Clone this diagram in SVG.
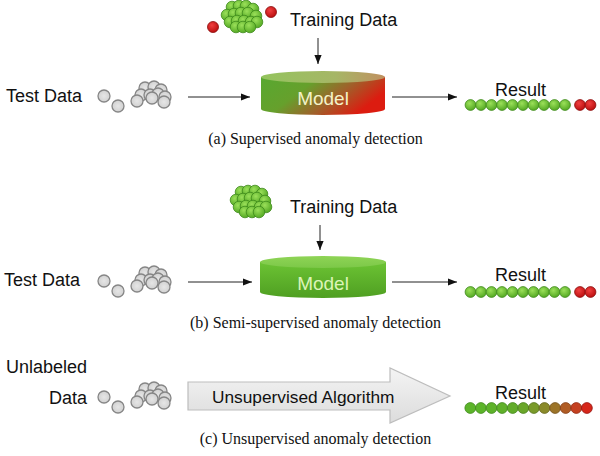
<svg xmlns="http://www.w3.org/2000/svg" width="600" height="456" viewBox="0 0 600 456">
<style>
.lbl{font-family:"Liberation Sans",Arial,sans-serif;font-size:18px;fill:#111}
.cap{font-family:"Liberation Serif","Times New Roman",serif;font-size:16px;fill:#111}
.mdl{font-family:"Liberation Sans",Arial,sans-serif;font-size:19px;text-anchor:middle}
.conn{stroke:#222;stroke-width:1;fill:none}
.gb{fill:url(#gball);stroke:#3f8a1c;stroke-width:0.8}
.rb{fill:url(#rball);stroke:#8a0c0c;stroke-width:0.8}
.yb{fill:url(#yball);stroke:#868686;stroke-width:1.3}
</style>
<defs>
<radialGradient id="gball" cx="0.4" cy="0.35" r="0.7"><stop offset="0" stop-color="#9be05a"/><stop offset="1" stop-color="#4fa51f"/></radialGradient>
<radialGradient id="rball" cx="0.4" cy="0.35" r="0.7"><stop offset="0" stop-color="#f04040"/><stop offset="1" stop-color="#b80c0c"/></radialGradient>
<radialGradient id="yball" cx="0.5" cy="0.5" r="0.6"><stop offset="0" stop-color="#e6e6e6"/><stop offset="1" stop-color="#cdcdcd"/></radialGradient>
<linearGradient id="bodyA" x1="0" y1="0" x2="1" y2="0.4"><stop offset="0" stop-color="#58a830"/><stop offset="0.4" stop-color="#66a02c"/><stop offset="0.7" stop-color="#a0602a"/><stop offset="1" stop-color="#dc1c10"/></linearGradient>
<linearGradient id="topA" x1="0" y1="0" x2="1" y2="0"><stop offset="0" stop-color="#94c45e"/><stop offset="0.6" stop-color="#a6b666"/><stop offset="1" stop-color="#c09060"/></linearGradient>
<linearGradient id="bodyB" x1="0" y1="0" x2="0" y2="1"><stop offset="0" stop-color="#6cc334"/><stop offset="1" stop-color="#4f9f22"/></linearGradient>
<linearGradient id="topB" x1="0" y1="0" x2="0" y2="1"><stop offset="0" stop-color="#8fd456"/><stop offset="1" stop-color="#7cc848"/></linearGradient>
<linearGradient id="bigArrow" x1="0" y1="0" x2="0" y2="1"><stop offset="0" stop-color="#f4f4f4"/><stop offset="1" stop-color="#dcdcdc"/></linearGradient>
<marker id="ah" viewBox="0 0 10 10" refX="10" refY="5" markerWidth="9" markerHeight="9" markerUnits="userSpaceOnUse" orient="auto"><path d="M0,1 L10,5 L0,9 z" fill="#111"/></marker>
<g id="gcluster">
<circle class="gb" cx="-10" cy="-9" r="5.8"/><circle class="gb" cx="-3" cy="-10" r="5.8"/><circle class="gb" cx="4" cy="-10" r="5.8"/><circle class="gb" cx="11" cy="-7" r="5.8"/>
<circle class="gb" cx="-15" cy="-1" r="5.8"/><circle class="gb" cx="-8" cy="-2" r="5.8"/><circle class="gb" cx="-1" cy="-3" r="5.8"/><circle class="gb" cx="6" cy="-3" r="5.8"/><circle class="gb" cx="14" cy="0" r="5.8"/>
<circle class="gb" cx="-12" cy="6" r="5.8"/><circle class="gb" cx="-5" cy="5" r="5.8"/><circle class="gb" cx="2" cy="5" r="5.8"/><circle class="gb" cx="9" cy="6" r="5.8"/><circle class="gb" cx="15" cy="6" r="5.8"/>
<circle class="gb" cx="-6" cy="11" r="5.8"/><circle class="gb" cx="1" cy="11" r="5.8"/><circle class="gb" cx="8" cy="11" r="5.8"/>
</g>
<g id="ycluster">
<circle class="yb" cx="104" cy="96" r="6"/><circle class="yb" cx="118" cy="106" r="6"/>
<circle class="yb" cx="145" cy="88" r="6"/><circle class="yb" cx="154" cy="87" r="6"/><circle class="yb" cx="161" cy="90" r="6"/>
<circle class="yb" cx="141" cy="95" r="6"/><circle class="yb" cx="150" cy="95" r="6"/><circle class="yb" cx="158" cy="94" r="6"/><circle class="yb" cx="165" cy="97" r="6"/>
<circle class="yb" cx="137" cy="101" r="6"/><circle class="yb" cx="152" cy="98" r="6"/><circle class="yb" cx="164" cy="102" r="6"/>
</g>
<g id="resultGR">
<circle class="gb" cx="470.5" cy="0" r="5.4"/><circle class="gb" cx="481" cy="0" r="5.4"/><circle class="gb" cx="491.5" cy="0" r="5.4"/><circle class="gb" cx="502" cy="0" r="5.4"/><circle class="gb" cx="512.5" cy="0" r="5.4"/><circle class="gb" cx="523" cy="0" r="5.4"/><circle class="gb" cx="533.5" cy="0" r="5.4"/><circle class="gb" cx="544" cy="0" r="5.4"/><circle class="gb" cx="554.5" cy="0" r="5.4"/><circle class="gb" cx="565" cy="0" r="5.4"/>
<circle class="rb" cx="580" cy="0" r="5.4"/><circle class="rb" cx="590.5" cy="0" r="5.4"/>
</g>
</defs>

<g id="connectors">
<line class="conn" x1="318" y1="38" x2="318" y2="64" marker-end="url(#ah)"/>
<line class="conn" x1="188" y1="97" x2="250" y2="97" marker-end="url(#ah)"/>
<line class="conn" x1="392" y1="97" x2="457" y2="97" marker-end="url(#ah)"/>
<line class="conn" x1="320" y1="225" x2="320" y2="250" marker-end="url(#ah)"/>
<line class="conn" x1="188" y1="282" x2="252" y2="282" marker-end="url(#ah)"/>
<line class="conn" x1="392" y1="282" x2="457" y2="282" marker-end="url(#ah)"/>
</g>

<!-- (a) -->
<g id="trainA">
<use href="#gcluster" transform="translate(242,16)"/>
<circle class="rb" cx="213" cy="27" r="5.5"/>
<circle class="rb" cx="271" cy="12" r="5.5"/>
<text class="lbl" x="290" y="26">Training Data</text>
</g>
<g id="testA">
<text class="lbl" x="6" y="102">Test Data</text>
<use href="#ycluster"/>
</g>
<g id="modelA">
<path d="M261,77 L261,109 A62,6 0 0 0 385,109 L385,77 Z" fill="url(#bodyA)"/>
<ellipse cx="323" cy="77" rx="62" ry="6" fill="url(#topA)"/>
<text class="mdl" x="323" y="105" fill="#f4f2c8">Model</text>
</g>
<g id="resultA">
<text class="lbl" x="495" y="96">Result</text>
<use href="#resultGR" transform="translate(0,105)"/>
</g>
<text class="cap" x="315.5" y="144" text-anchor="middle">(a) Supervised anomaly detection</text>

<!-- (b) -->
<g id="trainB">
<use href="#gcluster" transform="translate(251,201)"/>
<text class="lbl" x="290" y="213">Training Data</text>
</g>
<g id="testB">
<text class="lbl" x="4" y="286">Test Data</text>
<use href="#ycluster" transform="translate(0,185)"/>
</g>
<g id="modelB">
<path d="M260,262 L260,292 A63,6 0 0 0 386,292 L386,262 Z" fill="url(#bodyB)"/>
<ellipse cx="323" cy="262" rx="63" ry="6" fill="url(#topB)"/>
<text class="mdl" x="323" y="290" fill="#dcf4b8">Model</text>
</g>
<g id="resultB">
<text class="lbl" x="495" y="281">Result</text>
<use href="#resultGR" transform="translate(0,292)"/>
</g>
<text class="cap" x="315.5" y="328" text-anchor="middle">(b) Semi-supervised anomaly detection</text>

<!-- (c) -->
<g id="unlabeled">
<text class="lbl" x="87" y="373" text-anchor="end">Unlabeled</text>
<text class="lbl" x="87" y="404" text-anchor="end">Data</text>
<use href="#ycluster" transform="translate(0,301)"/>
</g>
<g id="algorithm">
<polygon points="188,382 390,382 390,368 450,396 390,423 390,410 188,410" fill="url(#bigArrow)" stroke="#bdbdbd" stroke-width="1.2"/>
<text class="lbl" x="212" y="403" style="font-size:17.3px">Unsupervised Algorithm</text>
</g>
<g id="resultC">
<text class="lbl" x="495" y="399">Result</text>
<g stroke-width="0.8">
<circle cx="470.3" cy="408" r="5.4" fill="#5cb42a" stroke="#3f8a1c"/>
<circle cx="480.9" cy="408" r="5.4" fill="#5cb42a" stroke="#3f8a1c"/>
<circle cx="491.5" cy="408" r="5.4" fill="#5eb22a" stroke="#3f8a1c"/>
<circle cx="502.1" cy="408" r="5.4" fill="#60b02a" stroke="#3f881c"/>
<circle cx="512.7" cy="408" r="5.4" fill="#62ac2a" stroke="#42861c"/>
<circle cx="523.3" cy="408" r="5.4" fill="#6aa62a" stroke="#48801c"/>
<circle cx="533.9" cy="408" r="5.4" fill="#7a9a2a" stroke="#56741c"/>
<circle cx="544.5" cy="408" r="5.4" fill="#8a8a2a" stroke="#66641c"/>
<circle cx="555.1" cy="408" r="5.4" fill="#9c7428" stroke="#74501a"/>
<circle cx="565.7" cy="408" r="5.4" fill="#b05c24" stroke="#843e16"/>
<circle cx="576.3" cy="408" r="5.4" fill="#c44020" stroke="#902a12"/>
<circle cx="586.9" cy="408" r="5.4" fill="#d6261a" stroke="#961410"/>
</g>
</g>
<text class="cap" x="315.5" y="444" text-anchor="middle">(c) Unsupervised anomaly detection</text>
</svg>
